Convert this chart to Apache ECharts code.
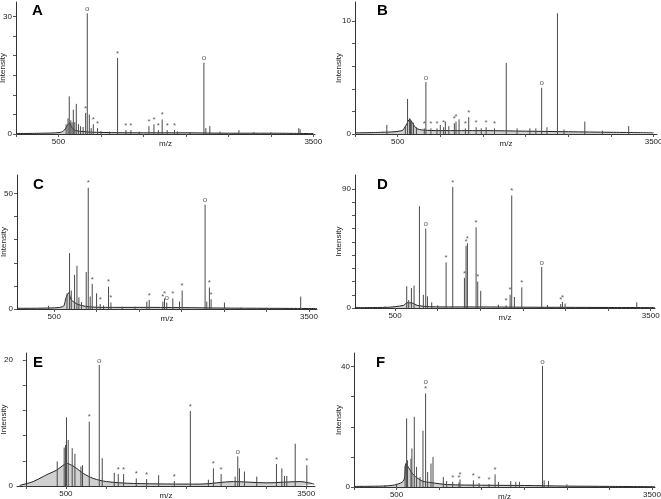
<!DOCTYPE html>
<html><head><meta charset="utf-8">
<script src="https://cdn.jsdelivr.net/npm/echarts@6/dist/echarts.min.js"></script>
<style>html,body{margin:0;padding:0;background:#fff}#c{width:661px;height:499px}</style>
</head><body><div id="c"></div>
<script>
// ---- data: [m/z, intensity, marker] ----
const peaksA = [[590,2.5],[612,4],[627,9.6],[645,3.5],[660,3],[675,6.2],[692,3],[710,7.7],[735,2.5],[760,2],[790,1.8],[820,5.4,'*'],[839,30.8,'o'],[863,5],[885,1.5],[910,2.5,'*'],[960,1.5,'*'],[1000,0.8],[1100,0.6],[1196,19.4,'*'],[1294,1,'*'],[1353,1,'*'],[1450,0.6],[1565,2,'*'],[1624,2.5,'*'],[1676,1,'*'],[1721,3.7,'*'],[1780,1,'*'],[1866,1,'*'],[1900,0.7],[2050,0.5],[2212,18.2,'o'],[2235,1.5],[2282,2],[2400,0.6],[2624,1],[2800,0.5],[3000,0.4],[3329,1.5],[3345,1.2]];
const baseA = [[0,0.1],[300,0.2],[520,0.4],[570,1],[600,2],[630,2.8],[660,1.6],[700,0.9],[800,0.6],[1000,0.4],[1500,0.3],[2000,0.3],[2500,0.2],[3000,0.2],[3500,0.1]];

const peaksB = [[373,0.8],[590,0.7],[616,3.1],[640,1.4],[650,1.3],[665,1.1],[686,1.0],[720,0.6],[812,0.5,'*'],[831,4.6,'o'],[890,0.5,'*'],[961,0.5,'*'],[1000,0.8],[1039,0.6,'*'],[1059,1.1],[1100,0.7],[1165,0.95,'*'],[1184,1.1,'*'],[1220,1.3],[1294,0.5,'*'],[1333,1.5,'*'],[1420,0.6,'*'],[1480,0.5],[1537,0.6,'*'],[1635,0.5,'*'],[1773,6.3],[1900,0.5],[2050,0.5],[2120,0.5],[2188,4.1,'o'],[2250,0.6],[2373,10.7],[2450,0.4],[2694,1.1],[2900,0.3],[3208,0.7]];
const baseB = [[0,0.1],[300,0.15],[550,0.3],[600,0.8],[640,1.3],[680,0.9],[720,0.5],[800,0.35],[1000,0.3],[1500,0.3],[2000,0.25],[2500,0.2],[3000,0.15],[3500,0.1]];

const peaksC = [[433,1.4],[650,6.8],[680,24.2],[700,8],[739,14.8],[767,18.7],[790,5],[820,3],[876,16],[900,52.5,'*'],[923,5.4],[947,10.9,'*'],[998,6.8],[1041,2.2,'*'],[1080,1.5],[1139,9.7,'*'],[1167,2.8,'*'],[1300,1],[1450,1],[1590,3.2],[1618,3.9,'*'],[1779,3.2,'*'],[1798,4.6,'*'],[1825,2.8,'o'],[1896,4.6,'*'],[1975,3.2],[2006,8,'*'],[2276,45.2,'o'],[2296,3.2],[2327,9.3,'*'],[2347,4.2,'*'],[2504,2.8],[2700,0.6],[3000,0.5],[3402,5.4]];
const baseC = [[61,0.3],[400,0.4],[600,1],[640,5],[670,7],[700,4],[780,2],[900,1],[1100,0.7],[1500,0.7],[2000,0.6],[2500,0.4],[3000,0.3],[3594,0.2]];

const peaksD = [[383,1.3],[637,16.4],[660,6],[692,15],[723,16.9],[786,76.9],[832,10],[860,60,'o'],[880,8.8],[930,4.3],[1000,2],[1099,34.5,'*'],[1177,91.5,'*'],[1314,22.7,'*'],[1333,47,'*'],[1349,49,'*'],[1451,61,'*'],[1470,20,'*'],[1505,13],[1713,2.5],[1803,2,'*'],[1850,10,'*'],[1869,85,'*'],[1900,8.3],[1987,15.6,'*'],[2221,31,'o'],[2288,2.3],[2444,3,'*'],[2464,4.5,'*'],[2495,3.3],[3336,4.3]];
const baseD = [[30,0.3],[400,0.5],[600,2],[640,4],[700,3.8],[760,2],[900,1],[1200,0.8],[1500,0.8],[2000,0.6],[2500,0.5],[3000,0.4],[3550,0.3]];

const peaksE = [[392,3.9],[479,6.1],[496,6.5],[508,10.9],[529,7.3],[579,6],[613,5.1],[688,3.1],[708,3.3],[792,10.2,'*'],[917,19.2,'o'],[954,4.4],[1104,2.1],[1154,1.9,'*'],[1221,1.9,'*'],[1379,1.2,'*'],[1508,1.1,'*'],[1658,1.7],[1854,0.8,'*'],[2054,11.9,'*'],[2279,1],[2342,2.8,'*'],[2438,1.9,'*'],[2613,1.5],[2646,4.7,'o'],[2667,2.8],[2729,2.3],[2883,1.5],[3129,3.5,'*'],[3196,2.8],[3229,1.6],[3258,1.6],[3363,6.7],[3508,3.3,'*']];
const baseE = [[-75,0.1],[92,0.7],[217,1.5],[279,1.9],[383,2.5],[467,3.3],[508,3.6],[571,3.3],[633,2.8],[717,2.0],[842,1.2],[1008,0.7],[1342,0.4],[2175,0.3],[2592,0.7],[3008,0.5],[3425,0.7],[3600,0.3]];

const peaksF = [[363,0.6],[500,1.1],[600,7],[618,22.8],[629,8.9],[669,9.4],[680,12.8],[708,23.3],[735,6.7],[775,3.3],[810,18.7],[841,31.1,'o*'],[865,5],[904,7.8],[928,10],[1049,3.3],[1088,2],[1159,1.7,'*'],[1233,1.5,'*'],[1245,2.5,'*'],[1402,2.2,'*'],[1469,1.3,'*'],[1586,1.0,'*'],[1657,4.2,'*'],[1696,1.7],[1841,1.9],[1900,1.7],[1943,1.7],[2214,40.2,'o'],[2233,2.2],[2284,2],[2500,0.9]];
const baseF = [[0,0.2],[400,0.4],[580,2],[610,7.8],[650,6],[700,4],[800,2],[900,1.5],[1100,0.8],[1500,0.6],[2000,0.5],[2500,0.3],[3000,0.2],[3535,0.1]];

const xTickValues = [0,500,1000,1500,2000,2500,3000,3500];
const xLabelValues = [500,3500];

const panels = [
  {letter:'A', peaks:peaksA, base:baseA, xMin:0,   xMax:3520, yMax:33.7, yStep:5,  yTop:30, nameGap:9,  grid:{left:16, top:2,   width:299, height:132}},
  {letter:'B', peaks:peaksB, base:baseB, xMin:0,   xMax:3540, yMax:11.7, yStep:2,  yTop:10, nameGap:12, grid:{left:355,top:2,   width:302, height:132}},
  {letter:'C', peaks:peaksC, base:baseC, xMin:61,  xMax:3594, yMax:58,   yStep:10, yTop:50, nameGap:9,  grid:{left:17, top:175, width:300, height:134}},
  {letter:'D', peaks:peaksD, base:baseD, xMin:30,  xMax:3550, yMax:100.5,yStep:10, yTop:90, nameGap:12, grid:{left:355,top:175, width:300, height:133}},
  {letter:'E', peaks:peaksE, base:baseE, xMin:-110,xMax:3610, yMax:21.1, yStep:4,  yTop:20, nameGap:9,  grid:{left:17, top:353, width:298, height:133}},
  {letter:'F', peaks:peaksF, base:baseF, xMin:0,   xMax:3535, yMax:44.5, yStep:10, yTop:40, nameGap:11, grid:{left:354,top:353, width:301, height:134}}
];

const FONT = 'Liberation Sans, Arial, sans-serif';
const LINE = '#4a4a4a';
const grids=[], xAxes=[], yAxes=[], series=[], graphics=[];
panels.forEach((p,i)=>{
  grids.push(Object.assign({containLabel:false, outerBoundsMode:'none'}, p.grid));
  const yt=[]; for(let v=0; v<=p.yTop; v+=p.yStep) yt.push(v);
  xAxes.push({type:'value', gridIndex:i, min:p.xMin, max:p.xMax, splitLine:{show:false},
    axisLine:{show:true, lineStyle:{color:'#333', width:1}},
    axisTick:{show:true, length:3, lineStyle:{color:'#555'}, customValues:xTickValues.filter(v=>v>=p.xMin && v<=p.xMax)},
    axisLabel:{show:true, fontSize:8, fontFamily:FONT, color:'#222', margin:4, customValues:xLabelValues, formatter:v=>String(v)},
    name:'m/z', nameLocation:'middle', nameGap:6, nameMoveOverlap:false, nameTextStyle:{fontSize:8, fontFamily:FONT, color:'#222'}});
  yAxes.push({type:'value', gridIndex:i, min:0, max:p.yMax, splitLine:{show:false},
    axisLine:{show:true, lineStyle:{color:'#333', width:1}},
    axisTick:{show:true, length:3, lineStyle:{color:'#555'}, customValues:yt},
    axisLabel:{show:true, fontSize:8, fontFamily:FONT, color:'#222', margin:4, customValues:[0,p.yTop], formatter:v=>String(v)},
    name:'Intensity', nameLocation:'middle', nameGap:p.nameGap, nameMoveOverlap:false, nameRotate:90, nameTextStyle:{fontSize:8, fontFamily:FONT, color:'#222'}});
  series.push({type:'line', xAxisIndex:i, yAxisIndex:i, data:p.base, symbol:'none', smooth:0.3,
    lineStyle:{color:'#222', width:1}, areaStyle:{color:'rgba(60,60,60,0.35)'}, silent:true, z:2});
  series.push({type:'custom', xAxisIndex:i, yAxisIndex:i, data:p.peaks.map(d=>[d[0],d[1]]), silent:true, z:3,
    renderItem:function(params, api){
      const a=api.coord([api.value(0),0]); const b=api.coord([api.value(0),api.value(1)]);
      return {type:'line', shape:{x1:a[0],y1:a[1],x2:b[0],y2:b[1]}, style:{stroke:LINE, lineWidth:1}};
    }});
  series.push({type:'scatter', xAxisIndex:i, yAxisIndex:i, symbolSize:0, silent:true, z:4,
    data:p.peaks.filter(d=>d[2]).map(d=>({value:[d[0],d[1]], label:{formatter:d[2]==='o*'?'o\n*':d[2]}})),
    label:{show:true, position:'top', distance:1, fontSize:8, lineHeight:7, fontFamily:FONT, color:'#333'}});
  graphics.push({type:'text', left:p.grid.left+16+(p.grid.left>300?6:0), top:p.grid.top+(i<2?1:2),
    style:{text:p.letter, font:'bold 15px '+FONT, fill:'#000'}});
});

const chart = echarts.init(document.getElementById('c'), null, {renderer:'canvas'});
chart.setOption({animation:false, backgroundColor:'#fff', grid:grids, xAxis:xAxes, yAxis:yAxes, series:series, graphic:graphics});
</script></body></html>
